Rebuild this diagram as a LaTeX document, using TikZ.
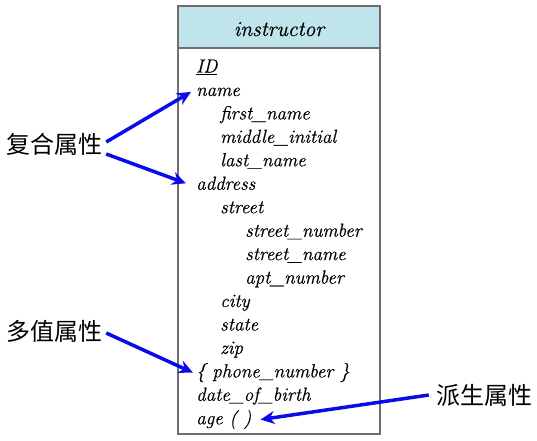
\documentclass[tikz,border=0pt]{standalone}
\usepackage{fontspec}
\newfontfamily\cjk{Noto Sans CJK SC}
\newfontfamily\attrfont{Latin Modern Roman}[FakeBold=0.5]
\usetikzlibrary{arrows.meta,positioning}
\definecolor{hdrblue}{RGB}{192,228,236}
\definecolor{arrblue}{RGB}{10,10,235}
\definecolor{boxgray}{RGB}{110,110,110}

\begin{document}
\begin{tikzpicture}[x=1pt,y=-1pt]
		\tikzstyle{every node}=[inner sep=0pt]
		\tikzstyle{attr}=[anchor=base west, font=\fontsize{19}{19}\attrfont\itshape]
		\tikzstyle{lbl}=[font=\fontsize{24}{24}\selectfont\cjk]
		\tikzstyle{arr}=[line width=3.5pt, arrblue, -{Stealth[length=14pt,width=13pt]}]
		\useasboundingbox (0,0) rectangle (537,440);
		\draw [boxgray, line width=1.2pt, fill=hdrblue] (178,6) rectangle (380,48);
		\draw [boxgray, line width=1.2pt] (178,48) rectangle (380,434);
		\node [anchor=base, font=\fontsize{21.5}{21.5}\attrfont\itshape] (title) at (279,36) {instructor};
		\node [attr] (id) at (196,72.5) {\underline{ID}};
		\node [attr] (name) at (196,96) {name};
		\node [attr] (first) at (220,119.4) {first\_name};
		\node [attr] (middle) at (220,142.9) {middle\_initial};
		\node [attr] (last) at (220,166.3) {last\_name};
		\node [attr] (address) at (196,189.8) {address};
		\node [attr] (street) at (220,213.2) {street};
		\node [attr] (stnum) at (245,236.7) {street\_number};
		\node [attr] (stname) at (245,260.1) {street\_name};
		\node [attr] (apt) at (245,283.6) {apt\_number};
		\node [attr] (city) at (220,307) {city};
		\node [attr] (state) at (220,330.5) {state};
		\node [attr] (zip) at (220,353.9) {zip};
		\node [attr] (phone) at (196,377.4) {\{ phone\_number \}};
		\node [attr] (dob) at (196,400.8) {date\_of\_birth};
		\node [attr] (age) at (196,424.3) {age ( )};
		\node [lbl] (comp) at (54,144) {复合属性};
		\node [lbl] (multi) at (54,331) {多值属性};
		\node [lbl] (derived) at (484,395) {派生属性};
		\draw [arr] ([xshift=4pt,yshift=2pt]comp.east) -- ([xshift=-5pt]name.west);
		\draw [arr] ([xshift=4pt,yshift=-10pt]comp.east) -- ([xshift=-10pt]address.west);
		\draw [arr] ([xshift=4pt,yshift=-2pt]multi.east) -- ([xshift=-3pt]phone.west);
		\draw [arr] ([xshift=-7pt]derived.west) -- ([xshift=9pt]age.east);
	\end{tikzpicture}
\end{document}
